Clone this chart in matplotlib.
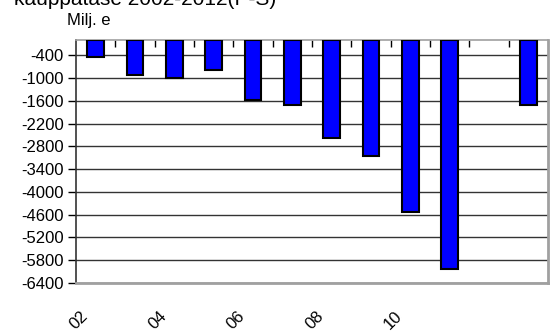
import numpy as np
import matplotlib
matplotlib.use("Agg")
import matplotlib.pyplot as plt
import matplotlib.transforms as mtransforms

plt.rcParams['font.family'] = ['Liberation Sans', 'DejaVu Sans']

# data (Milj. e), slot 11 is empty in the source chart
years = ['02', '03', '04', '05', '06', '07', '08', '09', '10', '11', '12', '13']
values = [-455, -925, -995, -800, -1585, -1700, -2580, -3045, -4540, -6030, np.nan, -1710]
shown_labels = ['02', '04', '06', '08', '10']
yticks = [-400, -1000, -1600, -2200, -2800, -3400, -4000, -4600, -5200, -5800, -6400]

fig = plt.figure(figsize=(5.5, 3.31), dpi=100)
ax = fig.add_axes([76/550, 48/331, 472/550, 243/331])

x = np.arange(len(years))
ax.bar(x, values, width=0.43, bottom=0, color='#0000ff', edgecolor='black', linewidth=1.5, zorder=3)

ax.set_xlim(-0.5, len(years) - 0.5)
ax.set_ylim(-6400, 0)

# y axis
ax.set_yticks(yticks)
ax.set_yticklabels([str(v) for v in yticks], fontsize=12)
ax.tick_params(axis='y', direction='out', length=6, width=1, pad=3, colors='black')
ax.yaxis.grid(True, color='#333333', linewidth=1)
ax.set_axisbelow(True)

# x axis: ticks at the top, between categories
ax.xaxis.tick_top()
ax.set_xticks(x[:-1] + 0.5)
ax.set_xticklabels([])
ax.tick_params(axis='x', direction='in', length=5, width=1, colors='black')

# category labels below the plot, rotated
offset = mtransforms.ScaledTranslation(-17/100, -37/100, fig.dpi_scale_trans)
trans = mtransforms.blended_transform_factory(ax.transData, ax.transAxes) + offset
for i, yr in enumerate(years):
    if yr in shown_labels:
        ax.text(i, 0, yr, transform=trans, rotation=45, ha='center', va='center', fontsize=12)

for side in ['bottom', 'right']:
    ax.spines[side].set_color('#a0a0a0')
    ax.spines[side].set_linewidth(2)
ax.spines['top'].set_color('#a0a0a0')
ax.spines['top'].set_linewidth(1.2)
ax.spines['left'].set_color('#333333')
ax.spines['left'].set_linewidth(1.2)

# title is clipped by the top edge, as in the source picture
fig.text(14/550, 1 - 5/331, 'kauppatase 2002-2012(P-S)', fontsize=15, va='baseline', ha='left')
fig.text(67/550, 1 - 25/331, 'Milj. e', fontsize=12, va='baseline', ha='left')

fig.savefig('out.png', dpi=100)
